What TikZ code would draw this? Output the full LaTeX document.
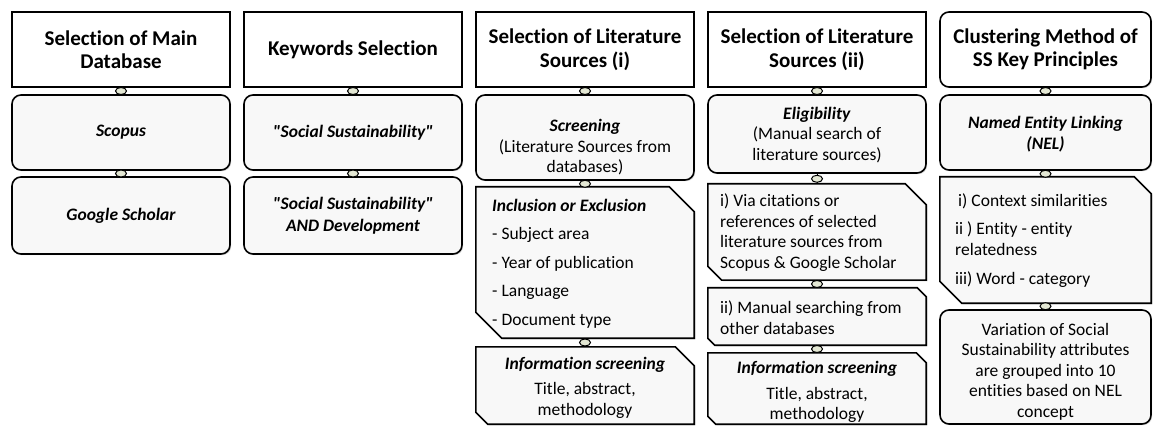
\documentclass[tikz,border=0pt]{standalone}
\usepackage{fontspec}
\setmainfont{Carlito}[Ligatures={TeX,NoCommon}]
\usetikzlibrary{shapes.geometric,shadows}
\definecolor{linkfill}{HTML}{E4E8D4}
\definecolor{boxfill}{HTML}{F8F8F8}
\newcommand\bodyfont{\fontsize{17.5}{20.5}\selectfont}
\newcommand\qq{\textquotedbl}
\newcommand\chamfbox[3]{%
  \draw[chline] (#1.north west) -- ([xshift=-#2pt]#1.north east) -- ([yshift=-#2pt]#1.north east)
    -- (#1.south east) -- ([xshift=#3pt]#1.south west) -- ([yshift=#3pt]#1.south west) -- cycle;}
\tikzset{
  boxline/.style={draw=black, line width=1.6pt},
  shad/.style={drop shadow={shadow xshift=1.2pt, shadow yshift=-1.2pt, opacity=0.3}},
  hdrbox/.style={boxline, fill=white, shad, inner sep=0pt},
  rbox/.style={boxline, fill=boxfill, rounded corners=9pt, shad, inner sep=0pt},
  frame/.style={inner sep=0pt},
  chline/.style={boxline, fill=boxfill, shad, line join=miter},
  hdrtext/.style={font=\fontsize{21}{23.5}\selectfont\bfseries, align=center, inner sep=0pt},
  txt/.style={inner sep=0pt, align=center, font=\bodyfont},
  btxt/.style={inner sep=0pt, align=center, font=\bodyfont\bfseries\itshape},
  ltxt/.style={inner sep=0pt, align=left, anchor=west, font=\bodyfont},
  link/.style={draw=black, line width=0.8pt},
  conn/.style={draw=black, line width=1pt, ellipse, minimum width=11pt, minimum height=7pt, inner sep=0pt, fill=linkfill},
}
\begin{document}
\begin{tikzpicture}[x=1pt,y=-1pt]
\useasboundingbox (0,0) rectangle (1155,427);
% ---------- column 1
\node[hdrbox, minimum width=218pt, minimum height=75pt] (h1) at (121,49.5) {};
\node[rbox, minimum width=218pt, minimum height=75pt] (s11) at (121,132.5) {};
\node[rbox, minimum width=218pt, minimum height=77pt] (s12) at (121,215.5) {};
% ---------- column 2
\node[hdrbox, minimum width=218pt, minimum height=75pt] (h2) at (353,49.5) {};
\node[rbox, minimum width=218pt, minimum height=75pt] (s21) at (353,132.5) {};
\node[rbox, minimum width=218pt, minimum height=77pt] (s22) at (353,215.5) {};
% ---------- column 3
\node[hdrbox, minimum width=218pt, minimum height=75pt] (h3) at (585,49.5) {};
\node[rbox, minimum width=218pt, minimum height=85pt] (s31) at (585,137.5) {};
\node[frame, minimum width=218pt, minimum height=151pt] (s32) at (585,262.5) {};
\chamfbox{s32}{25}{26}
\node[frame, minimum width=218pt, minimum height=77pt] (s33) at (585,385.5) {};
\chamfbox{s33}{19}{12}
% ---------- column 4
\node[hdrbox, minimum width=218pt, minimum height=75pt] (h4) at (817,49.5) {};
\node[rbox, minimum width=218pt, minimum height=78pt] (s41) at (817,134) {};
\node[frame, minimum width=218pt, minimum height=96pt] (s42) at (817,232) {};
\chamfbox{s42}{21}{14}
\node[frame, minimum width=218pt, minimum height=57pt] (s43) at (817,316.5) {};
\chamfbox{s43}{9}{7}
\node[frame, minimum width=218pt, minimum height=71pt] (s44) at (817,388.5) {};
\chamfbox{s44}{10}{8}
% ---------- column 5
\node[rbox, fill=white, minimum width=211pt, minimum height=75pt] (h5) at (1045.5,49.5) {};
\node[rbox, minimum width=211pt, minimum height=75pt] (s51) at (1045.5,132.5) {};
\node[frame, minimum width=211pt, minimum height=126pt] (s52) at (1045.5,240) {};
\chamfbox{s52}{17}{22}
\node[rbox, minimum width=211pt, minimum height=114pt] (s53) at (1045.5,367) {};
% ---------- texts
\node[hdrtext] (th1) at (h1.center) {Selection of Main\\Database};
\node[hdrtext] (th2) at (h2.center) {Keywords Selection};
\node[hdrtext] (th3) at (h3.center) {Selection of Literature\\Sources (i)};
\node[hdrtext] (th4) at (h4.center) {Selection of Literature\\Sources (ii)};
\node[hdrtext] (th5) at (h5.center) {Clustering Method of\\SS Key Principles};
\node[btxt] (t11) at (121,132.5) {Scopus};
\node[btxt] (t12) at (121,215.5) {Google Scholar};
\node[btxt] (t21) at (353,132.5) {\qq Social Sustainability\qq};
\node[btxt, font=\fontsize{17.5}{22}\selectfont\bfseries\itshape] (t22) at (353,216) {\qq Social Sustainability\qq\\AND Development};
\node[txt] (t31) at (585,147.5) {\textbf{\textit{Screening}}\\(Literature Sources from\\databases)};
\node[ltxt, font=\fontsize{17.5}{28.5}\selectfont] (t32) at (492,263.5) {\textbf{\textit{Inclusion or Exclusion}}\\- Subject area\\- Year of publication\\- Language\\- Document type};
\node[txt] (t33) at (585,387.5) {\textbf{\textit{Information screening}}\\[5pt]Title, abstract,\\methodology};
\node[txt] (t41) at (817,135) {\textbf{\textit{Eligibility}}\\(Manual search of\\literature sources)};
\node[ltxt] (t42) at (720,232.5) {i) Via citations or\\references of selected\\literature sources from\\Scopus \& Google Scholar};
\node[ltxt] (t43) at (720,317.5) {ii) Manual searching from\\other databases};
\node[txt] (t44) at (817,392) {\textbf{\textit{Information screening}}\\[5pt]Title, abstract,\\methodology};
\node[btxt, font=\fontsize{17.5}{21.5}\selectfont\bfseries\itshape] (t51) at (1045.5,134) {Named Entity Linking\\(NEL)};
\node[ltxt] (t52) at (955,240.5) {\hspace{3pt}i) Context similarities\\[8pt]ii ) Entity - entity\\relatedness\\[9pt]iii) Word - category};
\node[txt] (t53) at (1045.5,371.5) {Variation of Social\\Sustainability attributes\\are grouped into 10\\entities based on NEL\\concept};
% ---------- connectors
\draw[link] (h1) -- (s11) node[conn, midway] (c11) {};
\draw[link] (s11) -- (s12) node[conn, midway] (c12) {};
\draw[link] (h2) -- (s21) node[conn, midway] (c21) {};
\draw[link] (s21) -- (s22) node[conn, midway] (c22) {};
\draw[link] (h3) -- (s31) node[conn, midway] (c31) {};
\draw[link] (s31) -- (s32) node[conn, midway] (c32) {};
\draw[link] (s32) -- (s33) node[conn, midway] (c33) {};
\draw[link] (h4) -- (s41) node[conn, midway] (c41) {};
\draw[link] (s41) -- (s42) node[conn, midway] (c42) {};
\draw[link] (s42) -- (s43) node[conn, midway] (c43) {};
\draw[link] (s43) -- (s44) node[conn, midway] (c44) {};
\draw[link] (h5) -- (s51) node[conn, midway] (c51) {};
\draw[link] (s51) -- (s52) node[conn, midway] (c52) {};
\draw[link] (s52) -- (s53) node[conn, midway] (c53) {};
\end{tikzpicture}
\end{document}
